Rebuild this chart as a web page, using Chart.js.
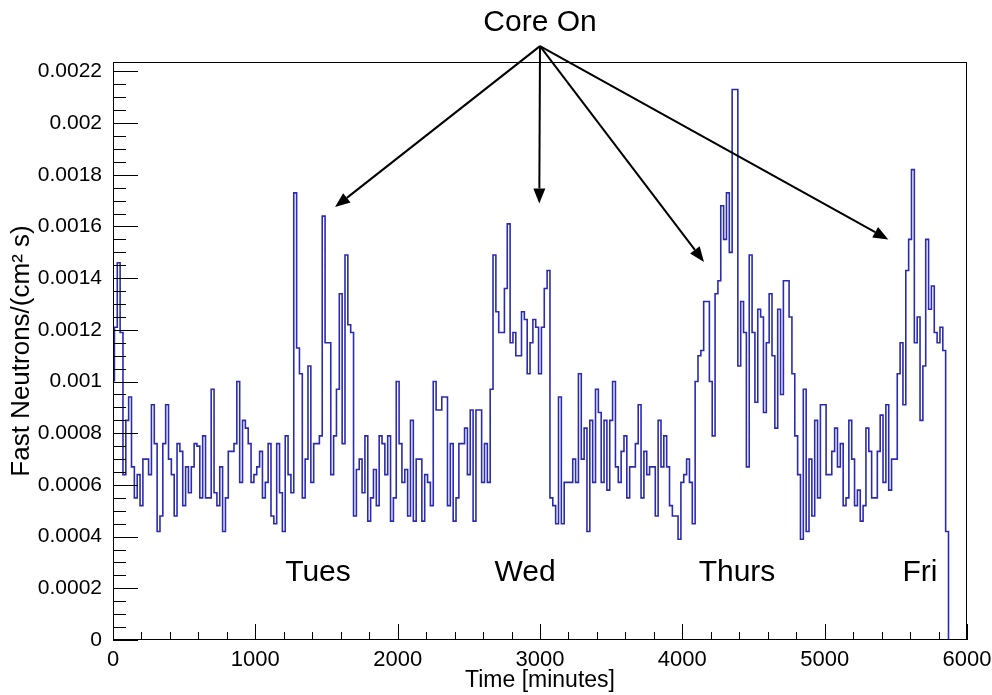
<!DOCTYPE html>
<html>
<head>
<meta charset="utf-8">
<script src="https://cdn.jsdelivr.net/npm/chart.js@4.4.1/dist/chart.umd.min.js"></script>
<style>
html, body { margin: 0; padding: 0; background: #fff; }
#wrap { width: 992px; height: 695px; position: relative; }
</style>
</head>
<body>
<div id="wrap"><canvas id="myChart"></canvas></div>
<script>
// histogram: 20 minute bins, first bin starts at histStart minutes,
// flux in units of 1e-3 /(cm^2 s)
const histStart = 10;
const binMinutes = 20;
const fluxE3 = [
  1.00, 1.21, 1.46, 1.19, 0.64, 0.85, 0.94, 0.67, 0.55, 0.64,
  0.52, 0.70, 0.70, 0.64, 0.91, 0.76, 0.42, 0.48, 0.76, 0.91,
  0.70, 0.64, 0.48, 0.76, 0.73, 0.52, 0.67, 0.57, 0.67, 0.76,
  0.75, 0.55, 0.79, 0.55, 0.55, 0.97, 0.57, 0.52, 0.67, 0.42,
  0.55, 0.73, 0.73, 0.76, 1.00, 0.61, 0.85, 0.82, 0.76, 0.61,
  0.64, 0.67, 0.73, 0.55, 0.61, 0.76, 0.48, 0.45, 0.76, 0.57,
  0.42, 0.79, 0.64, 0.57, 1.73, 1.13, 1.03, 0.55, 0.70, 1.06,
  0.61, 0.76, 0.76, 0.79, 1.64, 1.15, 1.15, 0.64, 0.79, 0.97,
  1.34, 0.76, 1.49, 1.22, 1.19, 0.48, 0.66, 0.70, 0.57, 0.79,
  0.46, 0.55, 0.66, 0.52, 0.79, 0.76, 0.64, 0.79, 0.46, 0.55,
  1.00, 0.76, 0.61, 0.66, 0.48, 0.85, 0.46, 0.70, 0.70, 0.46,
  0.64, 0.61, 0.52, 1.00, 0.89, 0.89, 0.94, 0.94, 0.52, 0.76,
  0.46, 0.55, 0.76, 0.76, 0.82, 0.64, 0.89, 0.46, 0.89, 0.89,
  0.61, 0.76, 0.61, 0.97, 1.49, 1.27, 1.19, 1.19, 1.36, 1.61,
  1.15, 1.19, 1.10, 1.10, 1.27, 1.24, 1.03, 1.15, 1.24, 1.21,
  1.03, 1.21, 1.36, 1.43, 0.55, 0.52, 0.45, 0.94, 0.45, 0.61,
  0.61, 0.61, 0.70, 0.61, 1.03, 0.70, 0.82, 0.42, 0.85, 0.61,
  0.97, 0.88, 0.61, 0.85, 0.58, 0.85, 1.00, 0.67, 0.61, 0.73,
  0.79, 0.55, 0.67, 0.67, 0.76, 0.91, 0.55, 0.73, 0.64, 0.67,
  0.67, 0.48, 0.85, 0.67, 0.79, 0.67, 0.52, 0.48, 0.48, 0.39,
  0.61, 0.64, 0.70, 0.61, 0.45, 1.00, 1.10, 1.12, 1.31, 1.31,
  1.00, 0.79, 1.34, 1.39, 1.68, 1.55, 1.73, 1.50, 2.13, 2.13,
  1.06, 1.31, 1.19, 0.67, 1.49, 1.19, 0.92, 1.28, 1.25, 0.88,
  1.15, 1.34, 1.10, 0.82, 1.28, 0.95, 1.39, 1.39, 1.25, 1.03,
  0.79, 0.64, 0.39, 0.97, 0.42, 0.70, 0.48, 0.85, 0.55, 0.91,
  0.91, 0.64, 0.64, 0.73, 0.82, 0.67, 0.76, 0.52, 0.55, 0.85,
  0.70, 0.52, 0.58, 0.46, 0.52, 0.82, 0.73, 0.55, 0.55, 0.73,
  0.87, 0.61, 0.91, 0.58, 0.70, 0.70, 1.03, 1.15, 0.91, 1.43,
  1.55, 1.82, 1.15, 1.25, 0.85, 1.06, 1.55, 1.28, 1.37, 1.19,
  1.15, 1.21, 1.12, 0.42
];

const xMin = 0, xMax = 6000, xMajor = 1000, xMinor = 200;
const yMin = 0, yMax = 0.0022365, yMajor = 0.0002, yMinor = 0.00005;

// annotations (data coordinates)
const dayNames = ['Tues', 'Wed', 'Thurs', 'Fri'];
const dayTextX = [1440, 2895, 4384, 5670];
const dayTextY = 0.000262;
const arrowTipX = [1560, 2995, 4152, 5447];
const arrowTipY = [0.001675, 0.001689, 0.001463, 0.00155];
const coreOnX = 3000, coreOnArrowY = 0.002298, coreOnTextY = 0.00239;

let points = fluxE3.map((v, i) => ({ x: histStart + i * binMinutes, y: v * 1e-3 }));
points.push({ x: histStart + fluxE3.length * binMinutes, y: 0 });
points.push({ x: xMax, y: 0 });

const fontFam = '"Liberation Sans", Arial, Helvetica, sans-serif';

function fmt(v) {
  return String(parseFloat(Number(v).toFixed(6)));
}

const rootFrame = {
  id: 'rootFrame',
  afterDatasetsDraw(chart) {
    const { ctx, chartArea: a, scales: { x, y } } = chart;
    ctx.save();
    ctx.strokeStyle = '#000';
    ctx.lineWidth = 1;
    ctx.strokeRect(a.left + 0.5, a.top + 0.5, a.right - a.left - 1, a.bottom - a.top - 1);

    ctx.beginPath();
    const nx = Math.round((xMax - xMin) / xMinor);
    for (let k = 0; k <= nx; k++) {
      const v = xMin + k * xMinor;
      const px = Math.round(x.getPixelForValue(v)) + 0.5;
      const len = (v % xMajor === 0) ? 16 : 8;
      ctx.moveTo(px, a.bottom);
      ctx.lineTo(px, a.bottom - len);
    }
    const ny = Math.floor((yMax - yMin) / yMinor + 1e-6);
    for (let k = 0; k <= ny; k++) {
      const v = yMin + k * yMinor;
      const py = Math.round(y.getPixelForValue(v)) + 0.5;
      const len = (k % 4 === 0) ? 25 : 13;
      ctx.moveTo(a.left, py);
      ctx.lineTo(a.left + len, py);
    }
    ctx.stroke();

    // Core On arrows
    const ox = x.getPixelForValue(coreOnX);
    const oy = y.getPixelForValue(coreOnArrowY);
    ctx.fillStyle = '#000';
    ctx.lineWidth = 2;
    for (let i = 0; i < arrowTipX.length; i++) {
      const tx = x.getPixelForValue(arrowTipX[i]);
      const ty = y.getPixelForValue(arrowTipY[i]);
      const ang = Math.atan2(ty - oy, tx - ox);
      const head = 15, half = 6;
      const bx = tx - head * Math.cos(ang), by = ty - head * Math.sin(ang);
      ctx.beginPath();
      ctx.moveTo(ox, oy);
      ctx.lineTo(bx, by);
      ctx.stroke();
      ctx.beginPath();
      ctx.moveTo(tx, ty);
      ctx.lineTo(bx + half * Math.sin(ang), by - half * Math.cos(ang));
      ctx.lineTo(bx - half * Math.sin(ang), by + half * Math.cos(ang));
      ctx.closePath();
      ctx.fill();
    }

    ctx.font = '30px ' + fontFam;
    ctx.textAlign = 'center';
    ctx.textBaseline = 'middle';
    ctx.fillText('Core On', ox, y.getPixelForValue(coreOnTextY));
    for (let i = 0; i < dayNames.length; i++) {
      ctx.fillText(dayNames[i], x.getPixelForValue(dayTextX[i]), y.getPixelForValue(dayTextY));
    }
    ctx.restore();
  }
};

const ctx = document.getElementById('myChart');

let graphData = {
  type: 'line',
  data: {
    datasets: [{
      label: 'fast neutron flux',
      data: points,
      stepped: 'after',
      borderColor: '#2b2bb0',
      borderWidth: 1.6,
      pointRadius: 0,
      fill: false,
      tension: 0
    }]
  },
  options: {
    responsive: true,
    maintainAspectRatio: false,
    animation: false,
    layout: { padding: { top: 62, right: 25, left: 0, bottom: 0 } },
    plugins: { legend: { display: false }, tooltip: { enabled: false } },
    scales: {
      x: {
        type: 'linear', min: xMin, max: xMax,
        afterFit: s => { s.height = 55; s.paddingLeft = 0; s.paddingRight = 0; },
        grid: { display: false, drawTicks: false },
        border: { display: false },
        ticks: {
          stepSize: xMajor, autoSkip: false, maxRotation: 0, padding: 7,
          color: '#000', font: { family: fontFam, size: 22 },
          callback: v => fmt(v)
        },
        title: {
          display: true, text: 'Time [minutes]', color: '#000',
          font: { family: fontFam, size: 23 }, padding: { top: 0, bottom: 1 }
        }
      },
      y: {
        type: 'linear', min: yMin, max: yMax,
        afterFit: s => { s.width = 113; s.paddingTop = 0; s.paddingBottom = 0; },
        grid: { display: false, drawTicks: false },
        border: { display: false },
        ticks: {
          stepSize: yMajor, includeBounds: false, autoSkip: false, padding: 11,
          color: '#000', font: { family: fontFam, size: 21 },
          callback: v => fmt(v)
        },
        title: {
          display: true, text: 'Fast Neutrons/(cm² s)', color: '#000',
          font: { family: fontFam, size: 26 }, padding: { top: 6, bottom: 0 }
        }
      }
    }
  },
  plugins: [rootFrame]
};

var myChart = new Chart(ctx, graphData);
</script>
</body>
</html>
